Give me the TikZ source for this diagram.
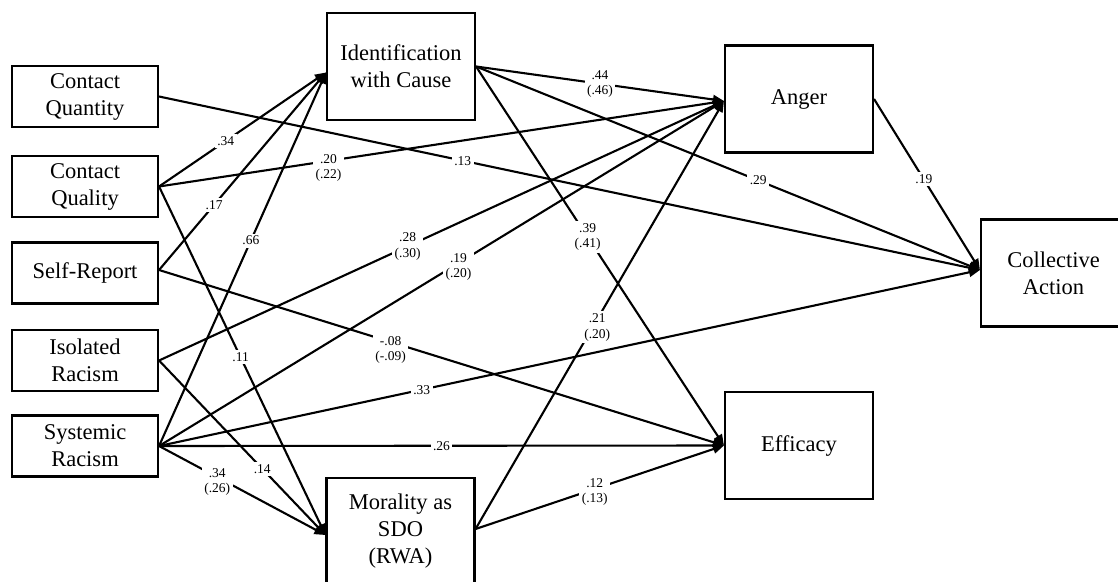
\documentclass[tikz,border=0pt]{standalone}
\usepackage{fontspec}
\setmainfont{Liberation Serif}
\usetikzlibrary{arrows.meta}

\begin{document}
\begin{tikzpicture}[x=1pt,y=-1pt,
  box/.style={draw, line width=2.1pt, inner sep=0pt, align=center,
    font=\fontsize{22.5}{27}\selectfont},
  smallbox/.style={box, minimum width=146pt, minimum height=61pt},
  bigbox/.style={box, minimum width=148pt, minimum height=107pt},
  link/.style={line width=2.1pt, -{Triangle[length=11pt,width=9pt]}},
  coef/.style={fill=white, inner sep=2.5pt, align=center,
    font=\fontsize{13.5}{15.5}\selectfont}]

\useasboundingbox (0,0) rectangle (1118,581);

% predictors
\node[smallbox] (cquan) at (85,96.5)  {Contact\\Quantity};
\node[smallbox] (cqual) at (85,186.5) {Contact\\Quality};
\node[smallbox] (self)  at (85,273)   {Self-Report};
\node[smallbox] (iso)   at (85,360.5) {Isolated\\Racism};
\node[smallbox] (sys)   at (85,446)   {Systemic\\Racism};

% mediators and outcomes
\node[bigbox] (ident) at (401,66.5)   {Identification\\with Cause};
\node[bigbox] (moral) at (400.5,531.5) {Morality as\\SDO\\(RWA)};
\node[bigbox] (anger) at (799,99)     {Anger};
\node[bigbox] (eff)   at (799,445.5)  {Efficacy};
\node[bigbox, minimum width=145pt] (ca) at (1053.5,273) {Collective\\Action};

% ports where the paths meet
\coordinate (identIn) at ([yshift=-6pt]ident.west);
\coordinate (moralIn) at ([yshift=-3.5pt]moral.west);
\coordinate (moralOut) at ([yshift=2.5pt]moral.east);
\coordinate (selfOut) at ([yshift=3pt]self.east);
\coordinate (angerIn) at ([yshift=-2pt]anger.west);
\coordinate (caIn) at ([yshift=3pt]ca.west);

% paths
\draw[link] (cquan.east) -- node[coef,pos=.37]{.13} (caIn);
\draw[link] (cqual.east) -- node[coef,pos=.4]{.34} (identIn);
\draw[link] (cqual.east) -- node[coef,pos=.3,yshift=-7pt]{.20\\(.22)} (angerIn);
\draw[link] (cqual.east) -- node[coef,pos=.49]{.11} (moralIn);
\draw[link] (selfOut) -- node[coef,pos=.33]{.17} (identIn);
\draw[link] (selfOut) -- node[coef,pos=.41,yshift=-8pt]{-.08\\(-.09)} (eff.west);
\draw[link] (iso.east) -- node[coef,pos=.44]{.28\\(.30)} (angerIn);
\draw[link] (iso.east) -- node[coef,pos=.62]{.14} (moralIn);
\draw[link] (sys.east) -- node[coef,pos=.55]{.66} (identIn);
\draw[link] (sys.east) -- node[coef,pos=.53,yshift=-4pt]{.19\\(.20)} (angerIn);
\draw[link] (sys.east) -- node[coef,pos=.32]{.33} (caIn);
\draw[link] (sys.east) -- node[coef,pos=.5]{.26} (eff.west);
\draw[link] (sys.east) -- node[coef,pos=.35,yshift=-5pt]{.34\\(.26)} (moralIn);
\draw[link] (ident.east) -- node[coef,pos=.5]{.44\\(.46)} (angerIn);
\draw[link] (ident.east) -- node[coef,pos=.56]{.29} (caIn);
\draw[link] (ident.east) -- node[coef,pos=.45]{.39\\(.41)} (eff.west);
\draw[link] (anger.east) -- node[coef,pos=.47]{.19} (caIn);
\draw[link] (moralOut) -- node[coef,pos=.49,yshift=-8pt]{.21\\(.20)} (angerIn);
\draw[link] (moralOut) -- node[coef,pos=.48,yshift=-3pt]{.12\\(.13)} (eff.west);
\end{tikzpicture}
\end{document}
